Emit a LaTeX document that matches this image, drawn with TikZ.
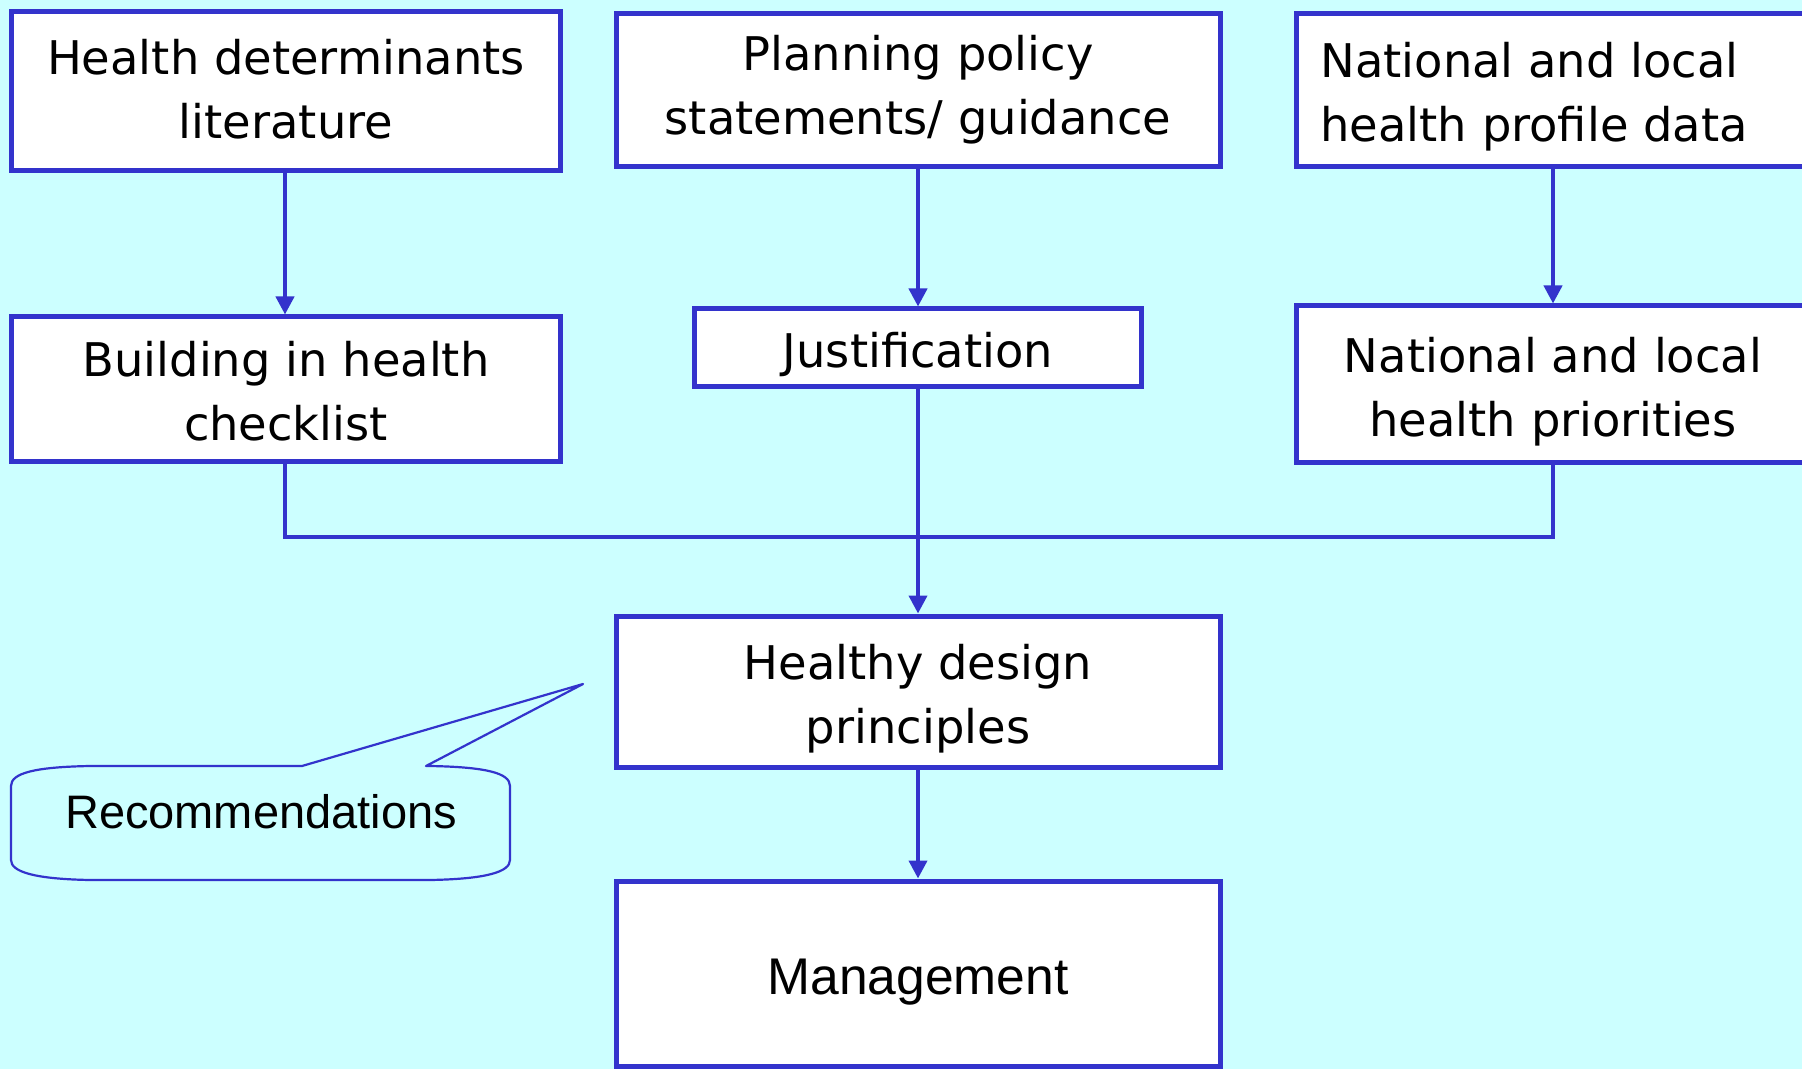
\documentclass[tikz,border=0pt]{standalone}
\usepackage{fontspec}
\setmainfont{DejaVu Sans}
\newfontfamily\arialf{Liberation Sans}
\usetikzlibrary{arrows.meta}
\definecolor{bgc}{HTML}{CCFFFF}
\definecolor{bluec}{HTML}{3333CC}
\tikzset{
  box/.style={draw=bluec, line width=2.5pt, fill=white, inner sep=0pt},
  txt/.style={inner sep=0pt, align=center, font=\fontsize{23.2}{32}\selectfont},
  conn/.style={draw=bluec, line width=2pt},
  arr/.style={conn, -{Triangle[width=9pt,length=9pt]}},
  callout/.style={draw=bluec, line width=1.1pt, line join=round},
}
\begin{document}
\begin{tikzpicture}[x=0.5pt,y=-0.5pt]
\fill[bgc] (0,0) rectangle (1802,1069);
\useasboundingbox (0,0) rectangle (1802,1069);
\clip (0,0) rectangle (1802,1069);
% boxes
\node[box, minimum width=274.5pt, minimum height=79.5pt] (hdl) at (286,91) {};
\node[box, minimum width=302pt, minimum height=76.5pt] (pps) at (918,90.5) {};
\node[box, minimum width=257pt, minimum height=76.5pt] (nlhp) at (1553,90.5) {};
\node[box, minimum width=274.5pt, minimum height=72pt] (bih) at (286,389) {};
\node[box, minimum width=223.5pt, minimum height=38.5pt] (just) at (918,347.5) {};
\node[box, minimum width=257pt, minimum height=78pt] (nlpri) at (1553,384) {};
\node[box, minimum width=302pt, minimum height=75.5pt] (hdp) at (918,691.5) {};
\node[box, minimum width=302pt, minimum height=92.5pt] (mgmt) at (918,973.5) {};
% texts
\node[txt] (hdl-t) at (286,89) {Health determinants\\literature};
\node[txt] (pps-t) at (918,90) {Planning policy\\statements/ guidance};
\node[txt, align=left, anchor=west] (nlhp-t) at (1320,96.5) {National and local\\health profile data};
\node[txt] (bih-t) at (286,391) {Building in health\\checklist};
\node[txt] (just-t) at (918,355) {Justification};
\node[txt] (nlpri-t) at (1553,392) {National and local\\health priorities};
\node[txt] (hdp-t) at (918,699) {Healthy design\\principles};
\node[txt, font=\arialf\fontsize{25.8}{30}\selectfont] (mgmt-t) at (918,982) {Management};
% arrows
\coordinate (lx) at (285,0);
\coordinate (rx) at (1553,0);
\coordinate (mx) at (918,0);
\coordinate (jy) at (0,537);
\draw[arr] (hdl.south -| lx) -- (bih.north -| lx);
\draw[arr] (pps.south -| mx) -- (just.north -| mx);
\draw[arr] (nlhp.south -| rx) -- (nlpri.north -| rx);
\draw[conn] (bih.south -| lx) -- (jy -| lx) -- (jy -| rx) -- (nlpri.south -| rx);
\draw[arr] (just.south -| mx) -- (hdp.north -| mx);
\draw[arr] (hdp.south -| mx) -- (mgmt.north -| mx);
% callout
\coordinate (tip) at (583,684);
\draw[callout] (302,766) -- (90,766) .. controls (35,767) and (11,773) .. (11,786)
  -- (11,860) .. controls (11,872) and (35,879) .. (90,880)
  -- (430,880) .. controls (486,879) and (510,872) .. (510,860)
  -- (510,786) .. controls (510,773) and (486,767) .. (430,766)
  -- (426,766) -- (tip) -- cycle;
\node[font=\arialf\fontsize{23.5}{28}\selectfont, inner sep=0pt] (rec) at (261,812) {Recommendations};
\end{tikzpicture}
\end{document}
